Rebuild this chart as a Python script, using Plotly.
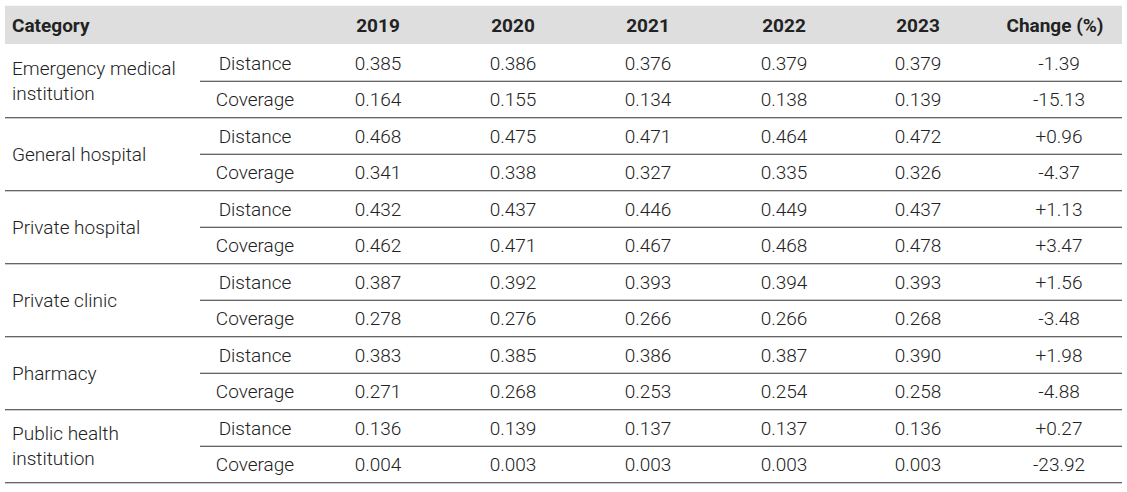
import plotly.graph_objects as go

# ---- data ----
categories = ["Emergency medical<br>institution", "General hospital", "Private hospital",
              "Private clinic", "Pharmacy", "Public health<br>institution"]
metrics = ["Distance", "Coverage"]
years = ["2019", "2020", "2021", "2022", "2023"]
values = [
    [0.385, 0.386, 0.376, 0.379, 0.379],
    [0.164, 0.155, 0.134, 0.138, 0.139],
    [0.468, 0.475, 0.471, 0.464, 0.472],
    [0.341, 0.338, 0.327, 0.335, 0.326],
    [0.432, 0.437, 0.446, 0.449, 0.437],
    [0.462, 0.471, 0.467, 0.468, 0.478],
    [0.387, 0.392, 0.393, 0.394, 0.393],
    [0.278, 0.276, 0.266, 0.266, 0.268],
    [0.383, 0.385, 0.386, 0.387, 0.390],
    [0.271, 0.268, 0.253, 0.254, 0.258],
    [0.136, 0.139, 0.137, 0.137, 0.136],
    [0.004, 0.003, 0.003, 0.003, 0.003],
]
changes = ["-1.39", "-15.13", "+0.96", "-4.37", "+1.13", "+3.47",
           "+1.56", "-3.48", "+1.98", "-4.88", "+0.27", "-23.92"]
header_first = "Category"
header_last = "Change (%)"

# ---- layout constants ----
W, H = 1127, 492
X_LEFT, X_RIGHT = 5, 1122
X_CAT = 12
X_METRIC = 255
X_INNER = 200
X_YEARS = [378, 513, 648, 784, 918]
X_CHANGE = 1055
ROW0, ROWH = 26.5, 36.5  # pixel center of header row and row height
DY = 0.05                 # small downward text nudge (row units)
TEXT = "#222222"
FONT = "Roboto"
FS = 19

n_rows = len(values)
fig = go.Figure()

# header text
fig.add_trace(go.Scatter(
    x=[X_CAT], y=[0 + DY / 2], text=[f"<b>{header_first}</b>"], mode="text",
    textposition="middle right", textfont=dict(family=FONT, size=FS, color=TEXT),
    hoverinfo="skip"))
fig.add_trace(go.Scatter(
    x=X_YEARS + [X_CHANGE], y=[0 + DY / 2] * (len(years) + 1),
    text=[f"<b>{t}</b>" for t in years + [header_last]], mode="text",
    textposition="middle center", textfont=dict(family=FONT, size=FS, color=TEXT),
    hoverinfo="skip"))

# category labels (centered on their group of two rows)
fig.add_trace(go.Scatter(
    x=[X_CAT] * len(categories),
    y=[1.5 + 2 * i + DY for i in range(len(categories))],
    text=categories, mode="text", textposition="middle right",
    textfont=dict(family=FONT, size=FS, color=TEXT, weight=300),
    hoverinfo="skip"))

# metric labels
rows_y = [r + DY for r in range(1, n_rows + 1)]
fig.add_trace(go.Scatter(
    x=[X_METRIC] * n_rows, y=rows_y,
    text=[metrics[i % 2] for i in range(n_rows)], mode="text",
    textposition="middle center",
    textfont=dict(family=FONT, size=FS, color=TEXT, weight=300),
    hoverinfo="skip"))

# values per year
for j, yr in enumerate(years):
    fig.add_trace(go.Scatter(
        x=[X_YEARS[j]] * n_rows, y=rows_y,
        text=[f"{values[i][j]:.3f}" for i in range(n_rows)], mode="text",
        textposition="middle center",
        textfont=dict(family=FONT, size=FS, color=TEXT, weight=300),
        hoverinfo="skip"))

# change column
fig.add_trace(go.Scatter(
    x=[X_CHANGE + 4] * n_rows, y=rows_y, text=changes, mode="text",
    textposition="middle center",
    textfont=dict(family=FONT, size=FS, color=TEXT, weight=300),
    hoverinfo="skip"))

shapes = [dict(type="rect", xref="x", yref="y", x0=X_LEFT, x1=X_RIGHT,
               y0=-0.57, y1=0.48, fillcolor="#dedede", line=dict(width=0),
               layer="below")]
for i in range(n_rows):
    yline = i + 1.5
    x0 = X_INNER if i % 2 == 0 else X_LEFT
    shapes.append(dict(type="line", xref="x", yref="y", x0=x0, x1=X_RIGHT,
                       y0=yline, y1=yline, line=dict(color="#333333", width=1.2)))

y_top = (0 - ROW0) / ROWH
y_bot = (H - ROW0) / ROWH
fig.update_layout(
    width=W, height=H, margin=dict(l=0, r=0, t=0, b=0),
    paper_bgcolor="white", plot_bgcolor="white", showlegend=False,
    xaxis=dict(range=[0, W], visible=False, fixedrange=True),
    yaxis=dict(range=[y_bot, y_top], visible=False, fixedrange=True),
    shapes=shapes,
)
fig.write_html("out.html", config={"displayModeBar": False},
               post_script="document.body.style.margin='0';document.body.style.overflow='hidden';")
